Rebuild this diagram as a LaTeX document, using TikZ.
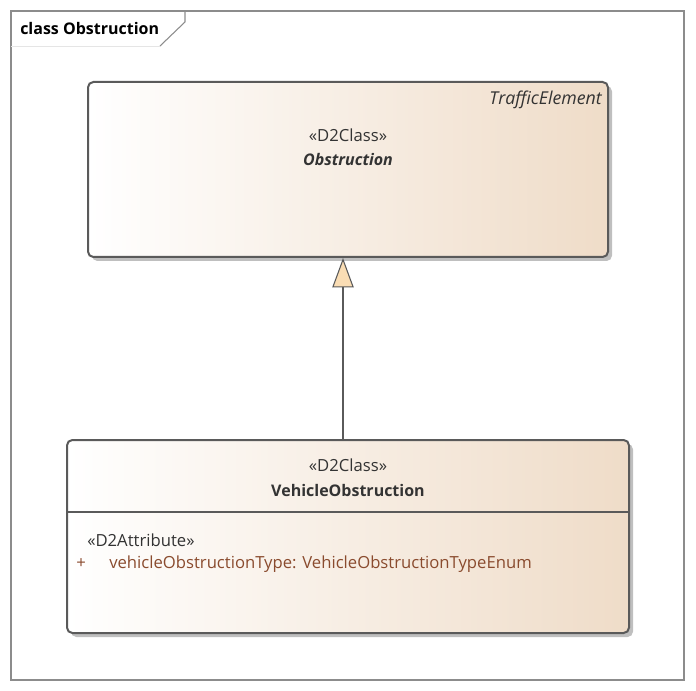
\documentclass[tikz,border=0pt]{standalone}
\usepackage{fontspec}
\setmainfont{Open Sans}
\usetikzlibrary{arrows.meta,shadows}
\definecolor{boxline}{HTML}{5A5A5A}
\definecolor{peach}{HTML}{EFDCC8}
\definecolor{tipfill}{HTML}{FADDB4}
\definecolor{attrcol}{HTML}{8A4B2E}
\definecolor{txtcol}{HTML}{333333}
\tikzset{
  classbox/.style={draw=boxline, line width=1.5pt, rounded corners=4pt,
    left color=white, right color=peach, inner sep=0pt,
    drop shadow={shadow xshift=3pt, shadow yshift=-3pt, fill=black!25, opacity=1}},
  label text/.style={font=\fontsize{12.5}{14}\selectfont, text=txtcol, inner sep=0pt},
  generalization/.style={draw=boxline, line width=1pt,
    -{Triangle[width=16pt,length=22pt,fill=tipfill,line width=0.8pt]}}
}
\begin{document}
\begin{tikzpicture}[x=0.75pt,y=-0.75pt]
  \useasboundingbox (0,0) rectangle (696,691);
  % Frame
  \draw[black!45, line width=0.8pt] (11,11) rectangle (684,680);
  \draw[black!45, line width=0.8pt] (185,11) -- (185,22) -- (160,46);
  \draw[black!10, line width=0.6pt] (160,46) -- (11,46);
  \node[anchor=west, font=\bfseries\fontsize{12}{15}\selectfont, inner sep=0pt] (title) at (20,29) {class Obstruction};
  % Classes
  \node[classbox, minimum width=390pt, minimum height=131.25pt] (obstruction) at (348,169.5) {};
  \node[classbox, minimum width=421.5pt, minimum height=144.75pt] (vehicle) at (348,536.5) {};
  \draw[boxline, line width=1pt] (67,512) -- (629,512);
  % Texts
  \node[label text, anchor=east, font=\itshape\fontsize{13.3}{15}\selectfont] (parent) at (602,100) {TrafficElement};
  \node[label text] (stereoA) at (348,135) {«D2Class»};
  \node[label text, font=\bfseries\itshape\fontsize{12}{14}\selectfont] (nameA) at (348,160) {Obstruction};
  \node[label text] (stereoB) at (348,465) {«D2Class»};
  \node[label text, font=\bfseries\fontsize{12}{14}\selectfont] (nameB) at (348,490) {VehicleObstruction};
  \node[label text, anchor=west] (attrstereo) at (87,540) {«D2Attribute»};
  \node[label text, anchor=west, text=attrcol] (plus) at (76,564) {+};
  \node[label text, anchor=west, text=attrcol] (attr) at (109,564) {vehicleObstructionType: VehicleObstructionTypeEnum};
  % Connection
  \draw[generalization] (vehicle.north -| 343,0) -- (obstruction.south -| 343,0);
\end{tikzpicture}
\end{document}
